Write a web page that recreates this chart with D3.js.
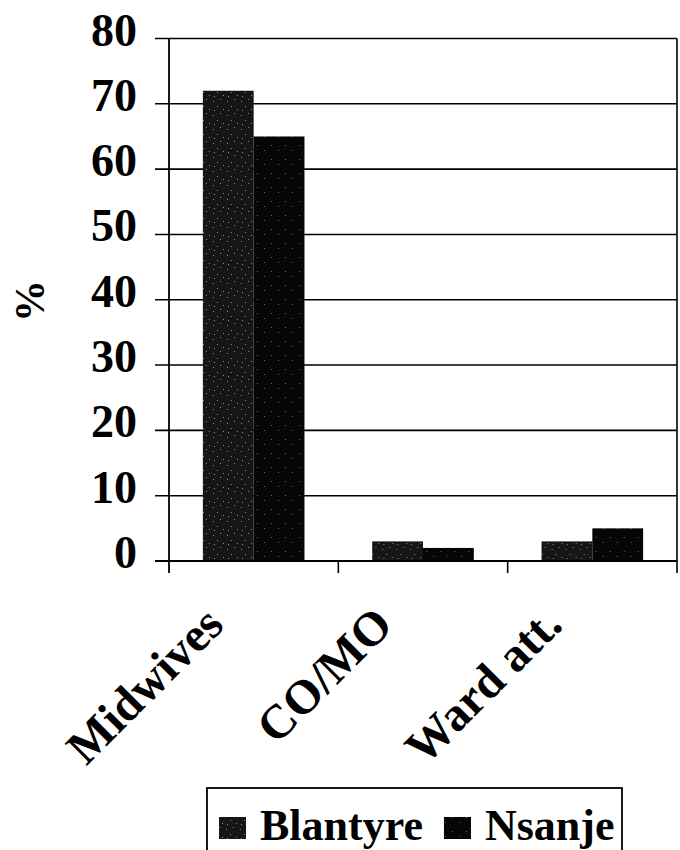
<!DOCTYPE html>
<html>
<head>
<meta charset="utf-8">
<script src="https://cdn.jsdelivr.net/npm/d3@7"></script>
<style>
  body { margin: 0; background: #fff; }
  svg { display: block; }
  text { font-family: "Liberation Serif", "Times New Roman", serif; font-weight: bold; fill: #000; }
</style>
</head>
<body>
<div id="chart"></div>
<script>
// data
const categories = ['Midwives', 'CO/MO', 'Ward att.'];
const series = ['Blantyre', 'Nsanje'];
const blantyre = [72, 3, 3];
const nsanje = [65, 2, 5];
const yTicks = [0, 10, 20, 30, 40, 50, 60, 70, 80];

const values = { Blantyre: blantyre, Nsanje: nsanje };

const width = 680;
const height = 850;
const plot = { left: 169, right: 677, top: 38.5, bottom: 561 };

const svg = d3.select('#chart')
  .append('svg')
  .attr('width', width)
  .attr('height', height);

// speckled fills like the scanned original
const defs = svg.append('defs');
const fills = {
  Blantyre: { base: '#161616', dot: '#8a8a8a', dots: [[2, 3], [9, 1], [6, 8], [12, 11], [3, 12]] },
  Nsanje: { base: '#060606', dot: '#666', dots: [[4, 5], [11, 10]] },
};
series.forEach((s) => {
  const p = defs.append('pattern')
    .attr('id', `fill-${s}`)
    .attr('patternUnits', 'userSpaceOnUse')
    .attr('width', 14)
    .attr('height', 14);
  p.append('rect').attr('width', 14).attr('height', 14).attr('fill', fills[s].base);
  fills[s].dots.forEach(([cx, cy]) => {
    p.append('rect').attr('x', cx).attr('y', cy).attr('width', 1).attr('height', 1)
      .attr('fill', fills[s].dot);
  });
});

const x0 = d3.scaleBand()
  .domain(categories)
  .range([plot.left, plot.right])
  .padding(0);

const x1 = d3.scaleBand()
  .domain(series)
  .range([x0.bandwidth() * 0.2, x0.bandwidth() * 0.8])
  .padding(0);

const y = d3.scaleLinear()
  .domain([0, 80])
  .range([plot.bottom, plot.top]);

// gridlines (with tick stubs left of the axis)
svg.append('g')
  .selectAll('line')
  .data(yTicks)
  .join('line')
  .attr('x1', plot.left - 14)
  .attr('x2', plot.right)
  .attr('y1', (d) => y(d))
  .attr('y2', (d) => y(d))
  .attr('stroke', '#000')
  .attr('stroke-width', 1.6);

// y tick labels
svg.append('g')
  .selectAll('text')
  .data(yTicks)
  .join('text')
  .attr('x', 137)
  .attr('y', (d) => y(d) + 7)
  .attr('text-anchor', 'end')
  .attr('font-size', 46)
  .text((d) => d);

// bars
const groups = svg.append('g')
  .selectAll('g')
  .data(categories)
  .join('g')
  .attr('transform', (d) => `translate(${x0(d)},0)`);

groups.selectAll('rect')
  .data((c, i) => series.map((s) => ({ s, v: values[s][i] })))
  .join('rect')
  .attr('x', (d) => x1(d.s))
  .attr('width', x1.bandwidth())
  .attr('y', (d) => y(d.v))
  .attr('height', (d) => y(0) - y(d.v))
  .attr('fill', (d) => `url(#fill-${d.s})`);

// axes frame
svg.append('line')
  .attr('x1', plot.left).attr('x2', plot.left)
  .attr('y1', plot.top).attr('y2', plot.bottom + 12)
  .attr('stroke', '#000').attr('stroke-width', 1.8);
svg.append('line')
  .attr('x1', plot.right).attr('x2', plot.right)
  .attr('y1', plot.top).attr('y2', plot.bottom + 12)
  .attr('stroke', '#000').attr('stroke-width', 1.6);
svg.append('line')
  .attr('x1', plot.left - 14).attr('x2', plot.right)
  .attr('y1', plot.bottom).attr('y2', plot.bottom)
  .attr('stroke', '#000').attr('stroke-width', 1.8);

// category ticks
svg.append('g')
  .selectAll('line')
  .data(categories.slice(1))
  .join('line')
  .attr('x1', (d) => x0(d))
  .attr('x2', (d) => x0(d))
  .attr('y1', plot.bottom)
  .attr('y2', plot.bottom + 12)
  .attr('stroke', '#000')
  .attr('stroke-width', 1.6);

// category labels
svg.append('g')
  .selectAll('text')
  .data(categories)
  .join('text')
  .attr('transform', (d) => `translate(${x0(d) + x0.bandwidth() / 2 - 28},${plot.bottom + 66}) rotate(-45)`)
  .attr('text-anchor', 'end')
  .attr('font-size', 48)
  .text((d) => d);

// y axis title
svg.append('text')
  .attr('transform', 'translate(44,301) rotate(-90)')
  .attr('text-anchor', 'middle')
  .attr('font-size', 42)
  .text('%');

// legend
const legend = svg.append('g');
legend.append('rect')
  .attr('x', 207)
  .attr('y', 788)
  .attr('width', 415)
  .attr('height', 90)
  .attr('fill', 'none')
  .attr('stroke', '#000')
  .attr('stroke-width', 1.8);

let lx = 219;
series.forEach((s) => {
  legend.append('rect')
    .attr('x', lx)
    .attr('y', 817)
    .attr('width', 27)
    .attr('height', 22)
    .attr('fill', `url(#fill-${s})`);
  const t = legend.append('text')
    .attr('x', lx + 41)
    .attr('y', 840)
    .attr('font-size', 44)
    .text(s);
  lx += 41 + t.node().getComputedTextLength() + 21;
});
</script>
</body>
</html>
